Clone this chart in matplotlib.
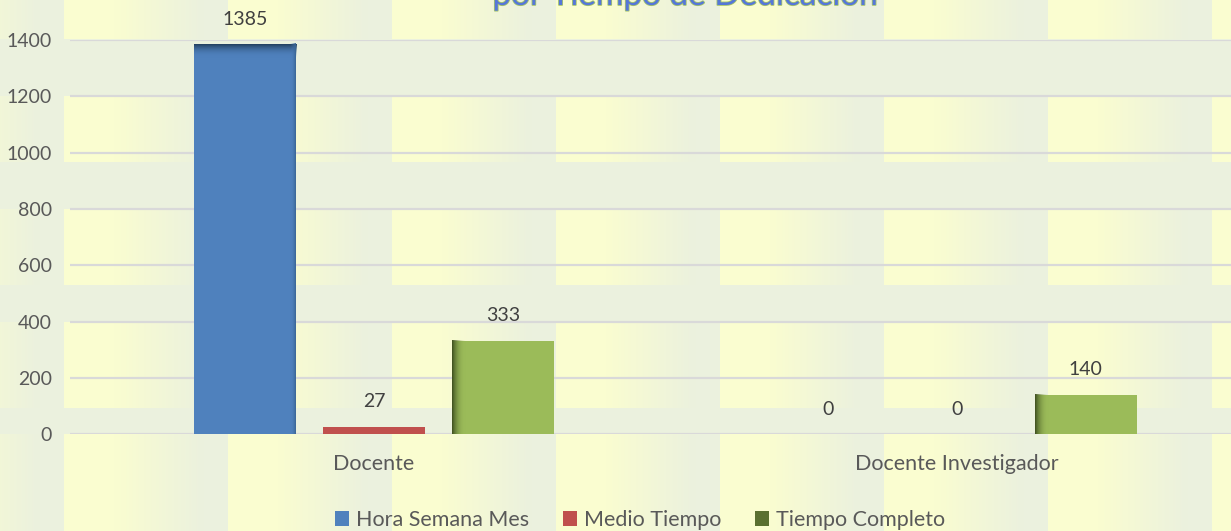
import numpy as np
import matplotlib
matplotlib.use("Agg")
import matplotlib.pyplot as plt
import matplotlib.patheffects as pe
from matplotlib.patches import Patch
from matplotlib.colors import to_rgb

plt.rcParams["font.family"] = ["Lato", "DejaVu Sans"]

# datos
categorias = ["Docente", "Docente Investigador"]
series = ["Hora Semana Mes", "Medio Tiempo", "Tiempo Completo"]
hora_semana_mes = [1385, 0]
medio_tiempo = [27, 0]
tiempo_completo = [333, 140]
y_ticks = [0, 200, 400, 600, 800, 1000, 1200, 1400]
titulo = "por Tiempo de Dedicación"

AZUL = "#4F81BD"; ROJO = "#C0504D"; VERDE = "#9BBB59"; VERDE_OSC = "#5A7030"
GRIS_TXT = "#595959"; GRIS_VAL = "#404040"; REJILLA = "#D9D9D9"
AMARILLO_BG = "#FAFDD0"; VERDE_BG = "#EBF1DE"

W, H = 1231, 531
fig = plt.figure(figsize=(W / 100, H / 100), dpi=100)

# ---------- fondo texturizado (tiras con degradado + bandas lisas) ----------
bg = fig.add_axes([0, 0, 1, 1], zorder=-10)
bg.set_axis_off()
xs = np.arange(W)
t = ((xs - 64) % 164) / 164.0
w = np.clip((t - 0.3) / 0.55, 0, 1)
amar = np.array(to_rgb(AMARILLO_BG)); verd = np.array(to_rgb(VERDE_BG))
fila = amar[None, :] * (1 - w[:, None]) + verd[None, :] * w[:, None]
img = np.repeat(fila[None, :, :], H, axis=0)
for y0, y1 in ((39, 96), (162, 209), (285, 322), (408, 434)):
    img[y0:y1, :, :] = verd
bg.imshow(img, extent=(0, W, H, 0), aspect="auto", interpolation="nearest")
bg.set_xlim(0, W); bg.set_ylim(H, 0)

# ---------- ejes principales ----------
ax = fig.add_axes([70 / W, (H - 434.3) / H, 1 - 70 / W, 394.3 / H])
ax.patch.set_alpha(0)
for s in ax.spines.values():
    s.set_visible(False)
ax.tick_params(length=0)
ax.grid(axis="y", color=REJILLA, linewidth=1.6, zorder=0)
ax.set_axisbelow(True)

x = np.arange(len(categorias))
off, ancho = 0.221, 0.175
grupos = [(hora_semana_mes, AZUL, -off), (medio_tiempo, ROJO, 0.0), (tiempo_completo, VERDE, off)]
barras = []
for vals, col, dx in grupos:
    b = ax.bar(x + dx, vals, width=ancho, color=col, zorder=3, edgecolor="none")
    barras.append(b)

XLIM = (-(374 - 70) / 583, (1231 - 374) / 583)
ax.set_yticks(y_ticks)
ax.set_yticklabels([str(v) for v in y_ticks], color=GRIS_TXT, fontsize=14)
ax.tick_params(axis="y", pad=13)
ax.set_xticks(x)
ax.set_xticklabels(categorias, color=GRIS_TXT, fontsize=15.5)
ax.tick_params(axis="x", pad=14)

# sombreado de las barras: degradados dentro de cada rectángulo
dpp = 1400 / 394.3          # unidades de datos por píxel en y
dxp = 1 / 583               # unidades de datos por píxel en x


def degradado(ax, ext, c0, c1, vertical, n=32):
    a = np.linspace(0, 1, n)
    rgb0, rgb1 = np.array(to_rgb(c0)), np.array(to_rgb(c1))
    g = rgb0[None, :] * (1 - a[:, None]) + rgb1[None, :] * a[:, None]
    rgba = np.concatenate([g, (1 - a[:, None]) ** 1.3], axis=1)
    arr = rgba[:, None, :] if vertical else rgba[None, :, :]
    ax.imshow(arr, extent=ext, aspect="auto", origin="upper",
              interpolation="bilinear", zorder=3.5)


for r in barras[0]:
    h = r.get_height()
    if h > 0:
        x0, wd = r.get_x(), r.get_width()
        degradado(ax, (x0, x0 + wd, h - 14 * dpp, h), "#23405F", AZUL, True)
        degradado(ax, (x0 + wd, x0 + wd - 6 * dxp, 0, h), "#3A6593", AZUL, False)
for r in barras[2]:
    h = r.get_height()
    if h > 0:
        x0, wd = r.get_x(), r.get_width()
        degradado(ax, (x0, x0 + 14 * dxp, 0, h), "#3F5020", VERDE, False)

ax.set_ylim(0, 1400)
ax.set_xlim(*XLIM)

# rótulos de valor
for b in barras:
    for r in b:
        ax.annotate(f"{r.get_height():.0f}", (r.get_x() + r.get_width() / 2, r.get_height()),
                    xytext=(0, 18), textcoords="offset points", ha="center", va="center",
                    color=GRIS_VAL, fontsize=14, annotation_clip=False, zorder=5)

# título (cortado por el borde superior, como en el original)
fig.text(685 / W, 1 - 5 / H, titulo, ha="center", va="baseline", fontsize=24,
         color="#5577D8",
         path_effects=[pe.withStroke(linewidth=1.2, foreground="#A5C46A")])

# leyenda
fig.legend(handles=[Patch(facecolor=AZUL, label=series[0]),
                    Patch(facecolor=ROJO, label=series[1]),
                    Patch(facecolor=VERDE_OSC, label=series[2])],
           loc="center", bbox_to_anchor=(640 / W, 11 / H), ncol=3, frameon=False,
           fontsize=15.5, labelcolor=GRIS_TXT, handlelength=0.65, handleheight=0.65,
           handletextpad=0.3, columnspacing=1.6)

fig.savefig("out.png", dpi=100)
